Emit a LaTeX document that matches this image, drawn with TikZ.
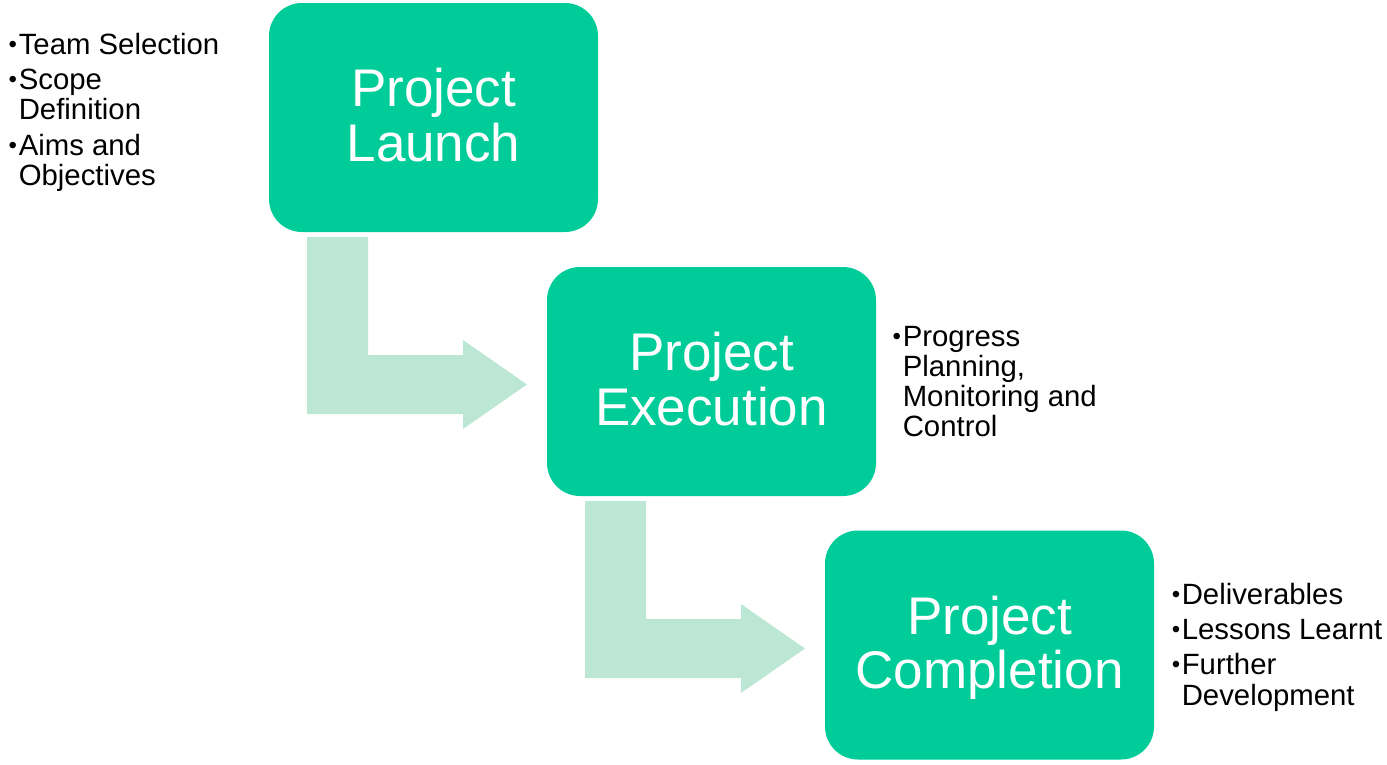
\documentclass[tikz,border=0pt]{standalone}
\usepackage{fontspec}
\setmainfont{Liberation Sans}
\usepackage{tikz}

\definecolor{stagegreen}{RGB}{0,204,153}
\definecolor{arrowgreen}{RGB}{189,231,213}

% small raised bullet in a fixed column
\newcommand\notebullet{\makebox[7.9pt][l]{\hspace{0.35pt}\raisebox{1.5pt}{\fontsize{18pt}{18pt}\selectfont\textbullet}}}

\tikzset{
  stagebox/.style={fill=stagegreen, draw=none, rounded corners=24.75pt,
    minimum width=246.75pt, minimum height=171.75pt, inner sep=0pt,
    align=center, text=white, text depth=4pt,
    font=\fontsize{39.75pt}{40.75pt}\selectfont},
  notes/.style={anchor=base west, inner sep=0pt,
    font=\fontsize{22pt}{22.5pt}\selectfont},
}

\begin{document}
\begin{tikzpicture}[x=0.75pt,y=0.75pt,yscale=-1,xscale=1]
\useasboundingbox (0,0) rectangle (1387,764);

%Shape: Bent Arrow
\fill [arrowgreen] (307,237) -- (368,237) -- (368,355) -- (463,355) -- (463,340) -- (527,384.5) -- (463,429) -- (463,414) -- (307,414) -- cycle ;
%Shape: Bent Arrow
\fill [arrowgreen] (585,501) -- (646,501) -- (646,619) -- (741,619) -- (741,604) -- (805,648.5) -- (741,693) -- (741,678) -- (585,678) -- cycle ;

%Shape: Rounded Rectangle
\node [stagebox] (launch) at (433.5,117.5) {Project\\Launch};
%Shape: Rounded Rectangle
\node [stagebox] (execution) at (711.5,381.5) {Project\\Execution};
%Shape: Rounded Rectangle
\node [stagebox] (completion) at (989.5,645) {Project\\Completion};

% Text Node
\node [notes] (launchnotes) at (8,54) {\begin{tabular}[t]{@{}l@{}l@{}}
  \notebullet & Team Selection\\[4pt]
  \notebullet & Scope\\
              & Definition\\[4pt]
  \notebullet & Aims and\\
              & Objectives
\end{tabular}};
% Text Node
\node [notes] (executionnotes) at (892,346) {\begin{tabular}[t]{@{}l@{}l@{}}
  \notebullet & Progress\\
              & Planning,\\
              & Monitoring and\\
              & Control
\end{tabular}};
% Text Node
\node [notes] (completionnotes) at (1171,604) {\begin{tabular}[t]{@{}l@{}l@{}}
  \notebullet & Deliverables\\[4pt]
  \notebullet & Lessons Learnt\\[4pt]
  \notebullet & Further\\
              & Development
\end{tabular}};

\end{tikzpicture}
\end{document}
